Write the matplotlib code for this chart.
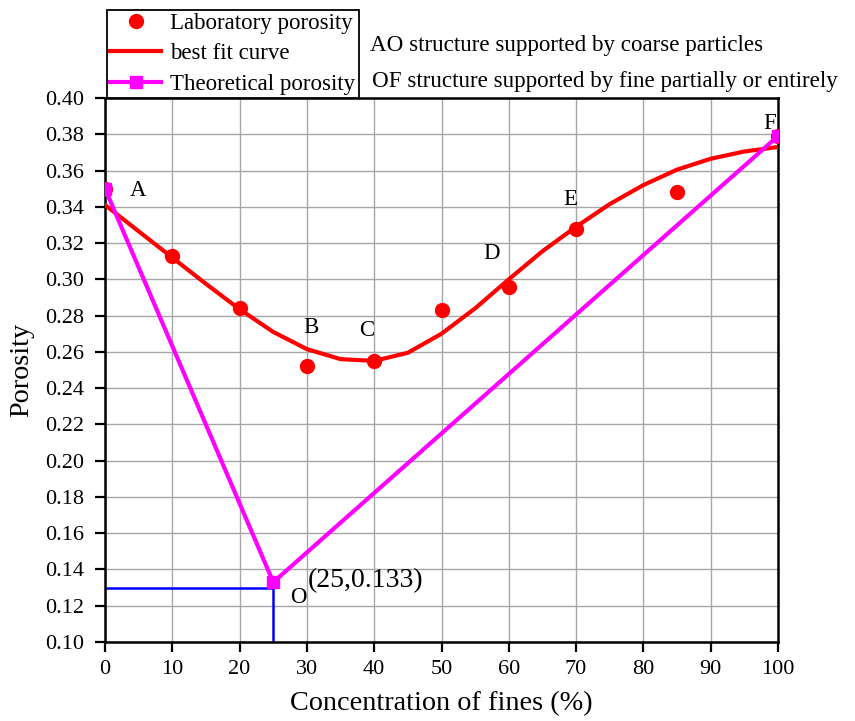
import matplotlib
matplotlib.use("Agg")
import matplotlib.pyplot as plt
import numpy as np

plt.rcParams['font.family'] = ['Liberation Serif', 'DejaVu Serif']
plt.rcParams['mathtext.fontset'] = 'stix'

# Laboratory porosity
lab_x = [0, 10, 20, 30, 40, 50, 60, 70, 85, 100]
lab_y = [0.350, 0.313, 0.284, 0.252, 0.255, 0.283, 0.296, 0.328, 0.348, 0.379]

# Best fit curve
fit_x = [0, 5, 10, 15, 20, 25, 30, 35, 40, 45, 50, 55, 60, 65, 70, 75, 80, 85, 90, 95, 100]
fit_y = [0.341, 0.3265, 0.312, 0.2975, 0.2835, 0.271, 0.2615, 0.256, 0.255, 0.2595, 0.270,
         0.284, 0.300, 0.3155, 0.329, 0.3415, 0.352, 0.3605, 0.3665, 0.3705, 0.373]

# Theoretical porosity
theo_x = [0, 25, 100]
theo_y = [0.350, 0.133, 0.379]

# Blue guide lines to point O
guide_x = [0, 25, 25]
guide_y = [0.130, 0.130, 0.100]

point_labels = ['A', 'B', 'C', 'D', 'E', 'F', 'O']
point_lx = [4.9, 30.6, 38.9, 57.5, 69.1, 98.7, 28.8]
point_ly = [0.349, 0.2737, 0.272, 0.3145, 0.344, 0.3857, 0.1248]

xticks = list(range(0, 101, 10))
yticks = [0.10, 0.12, 0.14, 0.16, 0.18, 0.20, 0.22, 0.24, 0.26, 0.28, 0.30, 0.32, 0.34, 0.36, 0.38, 0.40]

fig = plt.figure(figsize=(8.55, 7.21), dpi=100)
ax = fig.add_axes([105/855, 1 - 642/721, (778 - 105)/855, (642 - 98)/721])

ax.grid(True, color='#a6a6a6', lw=1.0, zorder=0)
ax.set_axisbelow(True)

ax.plot(guide_x, guide_y, color='blue', lw=1.8, zorder=2)
h_lab, = ax.plot(lab_x, lab_y, 'o', color='red', ms=10, zorder=4, label='Laboratory porosity')
h_fit, = ax.plot(fit_x, fit_y, '-', color='red', lw=3.0, zorder=3, label='best fit curve',
                 solid_joinstyle='round')
h_theo, = ax.plot(theo_x, theo_y, '-s', color='magenta', lw=3.0, ms=8, zorder=5,
                  label='Theoretical porosity')

for t, x, y in zip(point_labels, point_lx, point_ly):
    ax.text(x, y, t, fontsize=16.5, ha='center', va='center', zorder=6)
ax.text(30.2, 0.134, '(25,0.133)', fontsize=20, ha='left', va='center', zorder=6)

ax.set_xlim(0, 100)
ax.set_ylim(0.10, 0.40)
ax.set_xticks(xticks)
ax.set_yticks(yticks)
ax.set_yticklabels([f'{v:.2f}' for v in yticks])
ax.tick_params(axis='both', direction='out', length=7, width=1.6, labelsize=16)
ax.tick_params(axis='y', pad=8)
ax.tick_params(axis='x', pad=6)
for s in ax.spines.values():
    s.set_linewidth(1.8)
    s.set_color('black')

ax.set_xlabel('Concentration of fines (%)', fontsize=20.3, labelpad=9)
ax.set_ylabel('Porosity', fontsize=20.3, labelpad=8)

leg = fig.legend(handles=[h_lab, h_fit, h_theo], loc='lower left',
                 bbox_to_anchor=(107/855, 1 - 98/721), fontsize=16.5,
                 frameon=True, fancybox=False, framealpha=1, edgecolor='black',
                 borderpad=0.15, labelspacing=0.4, handlelength=2.2,
                 handletextpad=0.4, borderaxespad=0, numpoints=1)
leg.get_frame().set_linewidth(1.3)

fig.text(370/855, 1 - 46/721, 'AO structure supported by coarse particles',
         fontsize=16.6, ha='left', va='center')
fig.text(372/855, 1 - 82/721, 'OF structure supported by fine partially or entirely',
         fontsize=16.6, ha='left', va='center')

fig.savefig('out.png', dpi=100)
